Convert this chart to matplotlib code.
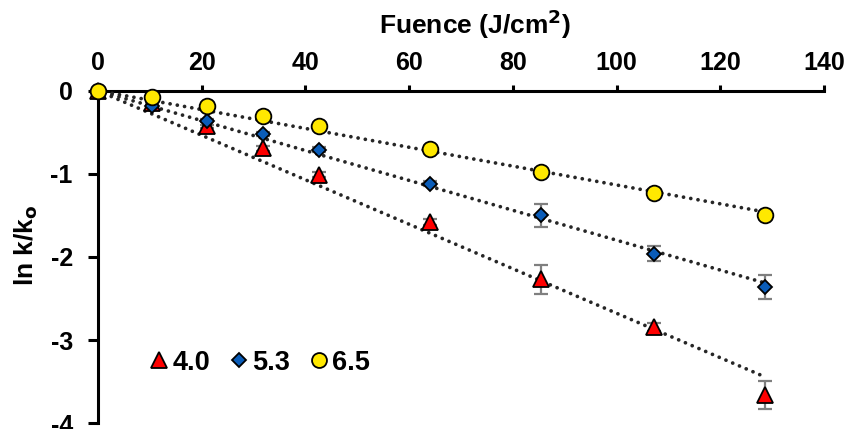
import numpy as np
import matplotlib
matplotlib.use("Agg")
import matplotlib.pyplot as plt

plt.rcParams['font.family'] = ['Liberation Sans', 'DejaVu Sans']
plt.rcParams['font.weight'] = 'bold'
plt.rcParams['axes.unicode_minus'] = False

fluence = [0, 10.4, 21.0, 31.9, 42.6, 64.0, 85.5, 107.2, 128.6]
labels = ["4.0", "5.3", "6.5"]
y_40 = [0.0, -0.15, -0.43, -0.69, -1.01, -1.58, -2.27, -2.84, -3.66]
e_40 = [0.0, 0.02, 0.02, 0.03, 0.03, 0.04, 0.17, 0.05, 0.17]
y_53 = [0.0, -0.18, -0.36, -0.52, -0.71, -1.12, -1.50, -1.96, -2.36]
e_53 = [0.0, 0.02, 0.02, 0.02, 0.03, 0.03, 0.14, 0.09, 0.14]
y_65 = [0.0, -0.07, -0.19, -0.30, -0.42, -0.70, -0.98, -1.23, -1.50]
e_65 = [0.0, 0.02, 0.02, 0.02, 0.02, 0.03, 0.05, 0.05, 0.04]

series = [
    (y_40, e_40, '^', '#FF0000', 11.5),
    (y_53, e_53, 'D', '#0A5CB8', 7.6),
    (y_65, e_65, 'o', '#FFE800', 11.3),
]

fig = plt.figure(figsize=(8.5, 4.29), dpi=100)
ax = fig.add_axes([0.115, 0.0133, 0.8545, 0.7753])

x = np.array(fluence)
handles = []
for ys, es, mk, col, ms in series:
    yv = np.array(ys)
    slope = np.sum(x * yv) / np.sum(x * x)
    xl = np.array([0, x.max()])
    ax.plot(xl, slope * xl, color='#262626', lw=2.7,
            linestyle=(0, (0.01, 1.95)), dash_capstyle='round', zorder=4)
    ax.errorbar(x, yv, yerr=es, fmt='none', ecolor='#7f7f7f', elinewidth=1.6,
                capsize=5, capthick=1.6, zorder=3, clip_on=False)
    h, = ax.plot(x, yv, linestyle='none', marker=mk, ms=ms, mfc=col,
                 mec='black', mew=1.3, zorder=5, clip_on=False)
    handles.append(h)

ax.set_xlim(0, 140)
ax.set_ylim(-4, 0)
ax.set_xticks(np.arange(0, 141, 20))
ax.set_yticks([0, -1, -2, -3, -4])
ax.xaxis.tick_top()
ax.xaxis.set_label_position('top')
ax.spines['bottom'].set_visible(False)
ax.spines['right'].set_visible(False)
for s in ['top', 'left']:
    ax.spines[s].set_linewidth(2.2)
    ax.spines[s].set_zorder(2)
ax.tick_params(axis='x', direction='out', length=4, width=2.2, pad=7, labelsize=18)
ax.tick_params(axis='y', direction='out', length=7, width=2.2, pad=11, labelsize=18)
for t in ax.get_xticklabels() + ax.get_yticklabels():
    t.set_fontweight('bold')

ax.set_xlabel('Fuence (J/cm$^\\mathbf{2}$)', fontsize=19, fontweight='bold')
ax.xaxis.set_label_coords(0.52, 1.17)
ax.set_ylabel('ln k/k$_\\mathbf{o}$', fontsize=19, fontweight='bold')
ax.yaxis.set_label_coords(-0.079, 0.535)

leg = ax.legend(handles, labels, loc='lower left', bbox_to_anchor=(0.04, 0.07),
                ncol=3, frameon=False, markerscale=0.95,
                handlelength=0.6, handletextpad=0.2, columnspacing=0.75,
                prop={'weight': 'bold', 'size': 19.5})

fig.savefig('out.png', dpi=100)
